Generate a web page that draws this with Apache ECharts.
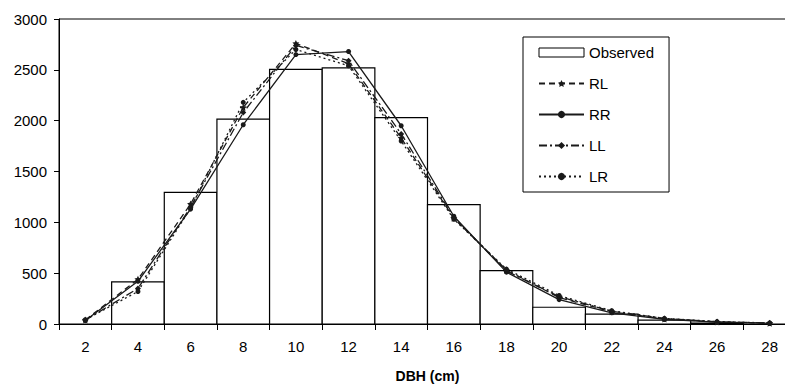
<!DOCTYPE html>
<html>
<head>
<meta charset="utf-8">
<script src="https://cdn.jsdelivr.net/npm/echarts@6/dist/echarts.min.js"></script>
<style>
  html, body { margin: 0; padding: 0; background: #fff; }
  #chart { width: 785px; height: 384px; }
</style>
</head>
<body>
<div id="chart"></div>
<script>
// DBH classes (cm) where the fitted curves are evaluated
const dbhClasses = [2, 4, 6, 8, 10, 12, 14, 16, 18, 20, 22, 24, 26, 28];

// Observed histogram: bin centres and counts (bins are 2 cm wide)
const binCenters = [4, 6, 8, 10, 12, 14, 16, 18, 20, 22, 24, 26];
const binWidth = 2;
const observed = [415, 1295, 2015, 2505, 2520, 2030, 1175, 525, 165, 98, 38, 10];

// Fitted distributions
const rl = [40, 440, 1180, 2130, 2760, 2560, 1830, 1040, 530, 260, 120, 50, 20, 8];
const rr = [35, 420, 1130, 1960, 2650, 2680, 1950, 1060, 510, 240, 110, 45, 18, 7];
const ll = [38, 350, 1150, 2080, 2740, 2590, 1870, 1050, 520, 270, 125, 55, 22, 9];
const lr = [42, 320, 1140, 2180, 2700, 2540, 1800, 1030, 540, 280, 130, 55, 24, 10];

// Axis ticks and labels
const xTickValues = [1, 3, 5, 7, 9, 11, 13, 15, 17, 19, 21, 23, 25, 27, 29];
const xLabelValues = [2, 4, 6, 8, 10, 12, 14, 16, 18, 20, 22, 24, 26, 28];

const FONT = "'Liberation Sans', Arial, sans-serif";
const INK = "#1a1a1a";

const chart = echarts.init(document.getElementById("chart"), undefined, {
  renderer: "svg",
});

const binData = binCenters.map((c, i) => [c - binWidth / 2, c + binWidth / 2, observed[i]]);
const pairs = (values) => dbhClasses.map((x, i) => [x, values[i]]);

const starPath =
  "path://M0,-10 L2.9,-4 L9.5,-3.1 L4.8,1.5 L5.9,8.1 L0,5 L-5.9,8.1 L-4.8,1.5 L-9.5,-3.1 L-2.9,-4 Z";

function lineSeries(name, values, symbol, symbolSize, dash) {
  return {
    name,
    type: "line",
    data: pairs(values),
    symbol,
    symbolSize,
    z: 3,
    itemStyle: { color: INK },
    lineStyle: { color: INK, width: 1.3, type: dash },
  };
}

const option = {
  backgroundColor: "#fff",
  animation: false,
  textStyle: { fontFamily: FONT },
  grid: {
    left: 59,
    top: 19,
    right: -11,
    bottom: 60,
    outerBoundsMode: "none",
    containLabel: false,
    show: true,
    borderColor: "#000",
    borderWidth: 1,
    backgroundColor: "transparent",
  },
  xAxis: {
    type: "value",
    min: 1,
    max: 29,
    name: "DBH (cm)",
    nameLocation: "middle",
    nameGap: 45,
    nameTextStyle: { color: "#000", fontSize: 14, fontWeight: "bold", fontFamily: FONT },
    axisLine: { lineStyle: { color: "#000", width: 1 } },
    axisTick: { customValues: xTickValues, length: 6, lineStyle: { color: "#000" } },
    axisLabel: { customValues: xLabelValues, color: "#000", fontSize: 15, margin: 15, fontFamily: FONT },
    splitLine: { show: false },
  },
  yAxis: {
    type: "value",
    min: 0,
    max: 3000,
    interval: 500,
    axisLine: { show: true, lineStyle: { color: "#000", width: 1 } },
    axisTick: { show: true, length: 5, lineStyle: { color: "#000" } },
    axisLabel: {
      color: "#000",
      fontSize: 15,
      margin: 12,
      fontFamily: FONT,
      formatter: (v) => String(v),
    },
    splitLine: { show: false },
  },
  legend: {
    orient: "vertical",
    left: 523,
    top: 37,
    padding: [8, 15, 8, 15],
    itemGap: 16,
    itemWidth: 45,
    itemHeight: 9,
    borderColor: "#000",
    borderWidth: 1,
    backgroundColor: "#fff",
    textStyle: { color: "#000", fontSize: 15, fontFamily: FONT },
    data: [
      { name: "Observed", icon: "rect", itemStyle: { color: "#fff", borderColor: "#000", borderWidth: 1 } },
      "RL",
      "RR",
      "LL",
      "LR",
    ],
  },
  series: [
    {
      name: "Observed",
      type: "custom",
      z: 1,
      itemStyle: { color: "#fff", borderColor: "#000", borderWidth: 1 },
      encode: { x: [0, 1], y: 2 },
      data: binData,
      renderItem(params, api) {
        const topLeft = api.coord([api.value(0), api.value(2)]);
        const bottomRight = api.coord([api.value(1), 0]);
        return {
          type: "rect",
          shape: {
            x: topLeft[0],
            y: topLeft[1],
            width: bottomRight[0] - topLeft[0],
            height: bottomRight[1] - topLeft[1],
          },
          style: { fill: "#fff", stroke: "#000", lineWidth: 1.2 },
        };
      },
    },
    lineSeries("RL", rl, starPath, 7, [6, 4]),
    lineSeries("RR", rr, "circle", 5, "solid"),
    lineSeries("LL", ll, "diamond", 6, [8, 3, 2, 3]),
    lineSeries("LR", lr, "circle", 5, [2, 3]),
  ],
};

chart.setOption(option);

window.addEventListener("resize", () => chart.resize());
</script>
</body>
</html>
